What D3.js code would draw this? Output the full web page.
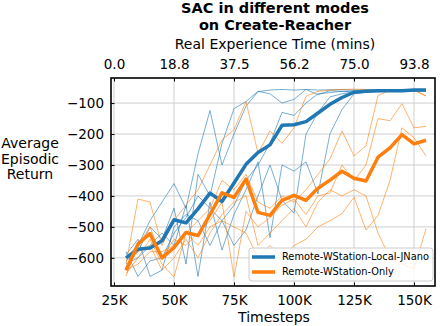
<!DOCTYPE html>
<html>
<head>
<meta charset="utf-8">
<script src="https://cdn.jsdelivr.net/npm/d3@7"></script>
<style>
  body { margin: 0; background: #fff; }
  svg { display: block; font-family: "DejaVu Sans", sans-serif; }
</style>
</head>
<body>
<svg id="chart"></svg>
<script>
(function(){
    "use strict";

    // timesteps (every 5K)
    const steps = [30000, 35000, 40000, 45000, 50000, 55000, 60000, 65000, 70000, 75000,
        80000, 85000, 90000, 95000, 100000, 105000, 110000, 115000, 120000, 125000,
        130000, 135000, 140000, 145000, 150000, 155000];

    // Remote-WStation-Local-JNano, individual runs
    const jnanoRuns = [
        [-600, -560, -480, -420, -360, -440, -264, -124, -300, -200, -110, -63, -58, -56, -58, -56, -58, -57, -56, -58, -57, -58, -56, -58, -57, -56],
        [-610, -580, -500, -540, -440, -620, -330, -400, -230, -118, -95, -62, -70, -100, -88, -56, -73, -60, -62, -60, -61, -59, -60, -58, -60, -58],
        [-590, -540, -660, -640, -500, -460, -480, -560, -480, -430, -350, -300, -230, -130, -140, -100, -70, -66, -62, -64, -60, -62, -61, -60, -62, -60],
        [-620, -600, -560, -520, -560, -430, -660, -420, -575, -460, -380, -290, -535, -300, -320, -290, -393, -199, -121, -70, -65, -63, -62, -63, -60, -61],
        [-580, -660, -610, -600, -520, -470, -400, -440, -480, -560, -510, -400, -300, -414, -456, -200, -130, -80, -70, -64, -62, -60, -59, -60, -59, -60]
    ];
    const jnanoMean = [-600, -572, -568, -545, -477, -487, -442, -391, -418, -358, -298, -260, -235, -172, -170, -160, -132, -104, -82, -65, -62, -60, -60, -60, -58, -58];

    // Remote-WStation-Only, individual runs
    const onlyRuns = [
        [-620, -410, -420, -560, -480, -430, -380, -300, -219, -186, -95, -262, -190, -230, -180, -78, -62, -58, -56, -55, -56, -58, -57, -58, -58, -78],
        [-650, -600, -540, -620, -662, -520, -480, -440, -350, -380, -330, -420, -440, -400, -420, -380, -330, -280, -190, -271, -238, -76, -58, -56, -58, -76],
        [-660, -560, -500, -600, -540, -560, -520, -480, -420, -662, -450, -500, -470, -430, -410, -460, -400, -390, -300, -350, -300, -150, -157, -102, -180, -175],
        [-630, -580, -560, -640, -600, -540, -600, -520, -460, -420, -400, -560, -520, -480, -440, -500, -420, -380, -400, -380, -400, -520, -600, -620, -636, -506],
        [-640, -620, -580, -580, -560, -520, -560, -500, -480, -500, -520, -600, -560, -600, -560, -540, -500, -480, -457, -404, -510, -463, -350, -180, -212, -271]
    ];
    const onlyMean = [-640, -555, -522, -600, -567, -518, -528, -460, -390, -405, -346, -453, -463, -414, -398, -414, -375, -349, -320, -343, -352, -275, -245, -202, -232, -220];

    const seriesNames = ["Remote-WStation-Local-JNano", "Remote-WStation-Only"];
    const colors = ["#1f77b4", "#ff7f0e"];

    const xTicks = [25000, 50000, 75000, 100000, 125000, 150000];
    const xTickLabels = ["25K", "50K", "75K", "100K", "125K", "150K"];
    const topTickLabels = ["0.0", "18.8", "37.5", "56.2", "75.0", "93.8"];
    const yTicks = [-600, -500, -400, -300, -200, -100];

    const width = 442,
        height = 326,
        left = 111, right = 435, top = 78, bottom = 286;

    const svg = d3.select("svg#chart")
        .attr("width", width)
        .attr("height", height);

    const x = d3.scaleLinear().domain([23750, 158750]).range([left, right]);
    const y = d3.scaleLinear().domain([-691, -19]).range([bottom, top]);

    // grid
    svg.append("g").selectAll("line")
        .data(xTicks).enter().append("line")
        .attr("x1", d => x(d)).attr("x2", d => x(d))
        .attr("y1", top).attr("y2", bottom)
        .attr("stroke", "#cfcfcf").attr("stroke-width", 1);
    svg.append("g").selectAll("line")
        .data(yTicks).enter().append("line")
        .attr("x1", left).attr("x2", right)
        .attr("y1", d => y(d)).attr("y2", d => y(d))
        .attr("stroke", "#cfcfcf").attr("stroke-width", 1);

    svg.append("clipPath").attr("id", "clip")
        .append("rect")
        .attr("x", left).attr("y", top)
        .attr("width", right - left).attr("height", bottom - top);

    const line = d3.line()
        .x((d, i) => x(steps[i]))
        .y(d => y(d));

    const plot = svg.append("g").attr("clip-path", "url(#clip)");

    // thin runs
    [jnanoRuns, onlyRuns].forEach((runs, k) => {
        plot.append("g").selectAll("path")
            .data(runs).enter().append("path")
            .attr("d", line)
            .attr("fill", "none")
            .attr("stroke", colors[k])
            .attr("stroke-opacity", 0.75)
            .attr("stroke-width", 0.8);
    });

    // mean curves
    [jnanoMean, onlyMean].forEach((m, k) => {
        plot.append("path")
            .datum(m)
            .attr("d", line)
            .attr("fill", "none")
            .attr("stroke", colors[k])
            .attr("stroke-width", 3.5)
            .attr("stroke-linejoin", "round");
    });

    // axes, ticks pointing inward
    const xAxisB = d3.axisBottom(x).tickValues(xTicks)
        .tickFormat((d, i) => xTickLabels[i]).tickSizeInner(-3.5).tickSizeOuter(0).tickPadding(9);
    const xAxisT = d3.axisTop(x).tickValues(xTicks)
        .tickFormat((d, i) => topTickLabels[i]).tickSizeInner(-3.5).tickSizeOuter(0).tickPadding(9);
    const yAxis = d3.axisLeft(y).tickValues(yTicks)
        .tickFormat(d => "\u2212" + Math.abs(d)).tickSizeInner(-3.5).tickSizeOuter(0).tickPadding(7);

    const gB = svg.append("g").attr("transform", `translate(0,${bottom})`).call(xAxisB);
    const gT = svg.append("g").attr("transform", `translate(0,${top})`).call(xAxisT);
    const gL = svg.append("g").attr("transform", `translate(${left},0)`).call(yAxis);
    [gB, gT, gL].forEach(g => {
        g.select(".domain").remove();
        g.selectAll("text").attr("font-family", "DejaVu Sans").attr("font-size", 13.5).attr("fill", "#000");
        g.selectAll(".tick line").attr("stroke", "#000");
    });

    // frame
    svg.append("rect")
        .attr("x", left).attr("y", top)
        .attr("width", right - left).attr("height", bottom - top)
        .attr("fill", "none").attr("stroke", "#000").attr("stroke-width", 1.6);

    // legend
    const lg = svg.append("g");
    lg.append("rect")
        .attr("x", 249).attr("y", 248).attr("width", 184).attr("height", 33)
        .attr("rx", 3)
        .attr("fill", "#fff").attr("fill-opacity", 0.8)
        .attr("stroke", "#cccccc").attr("stroke-width", 1);
    seriesNames.forEach((name, i) => {
        const yy = 257 + i * 15;
        lg.append("line")
            .attr("x1", 252).attr("x2", 275).attr("y1", yy).attr("y2", yy)
            .attr("stroke", colors[i]).attr("stroke-width", 3.5);
        lg.append("text")
            .attr("x", 282).attr("y", yy)
            .attr("dy", "0.35em")
            .attr("font-size", 9.8)
            .text(name);
    });

    // titles and labels
    svg.append("text").attr("x", 275).attr("y", 13)
        .attr("text-anchor", "middle").attr("font-size", 14.5).attr("font-weight", "bold")
        .text("SAC in different modes");
    svg.append("text").attr("x", 275).attr("y", 30)
        .attr("text-anchor", "middle").attr("font-size", 14.5).attr("font-weight", "bold")
        .text("on Create-Reacher");
    svg.append("text").attr("x", 275).attr("y", 49)
        .attr("text-anchor", "middle").attr("font-size", 14)
        .text("Real Experience Time (mins)");
    svg.append("text").attr("x", 274).attr("y", 322)
        .attr("text-anchor", "middle").attr("font-size", 14)
        .text("Timesteps");

    const yl = svg.append("text").attr("text-anchor", "middle").attr("font-size", 14);
    ["Average", "Episodic", "Return"].forEach((t, i) => {
        yl.append("tspan").attr("x", 30).attr("y", 148 + i * 15.5).text(t);
    });
})();
</script>
</body>
</html>
